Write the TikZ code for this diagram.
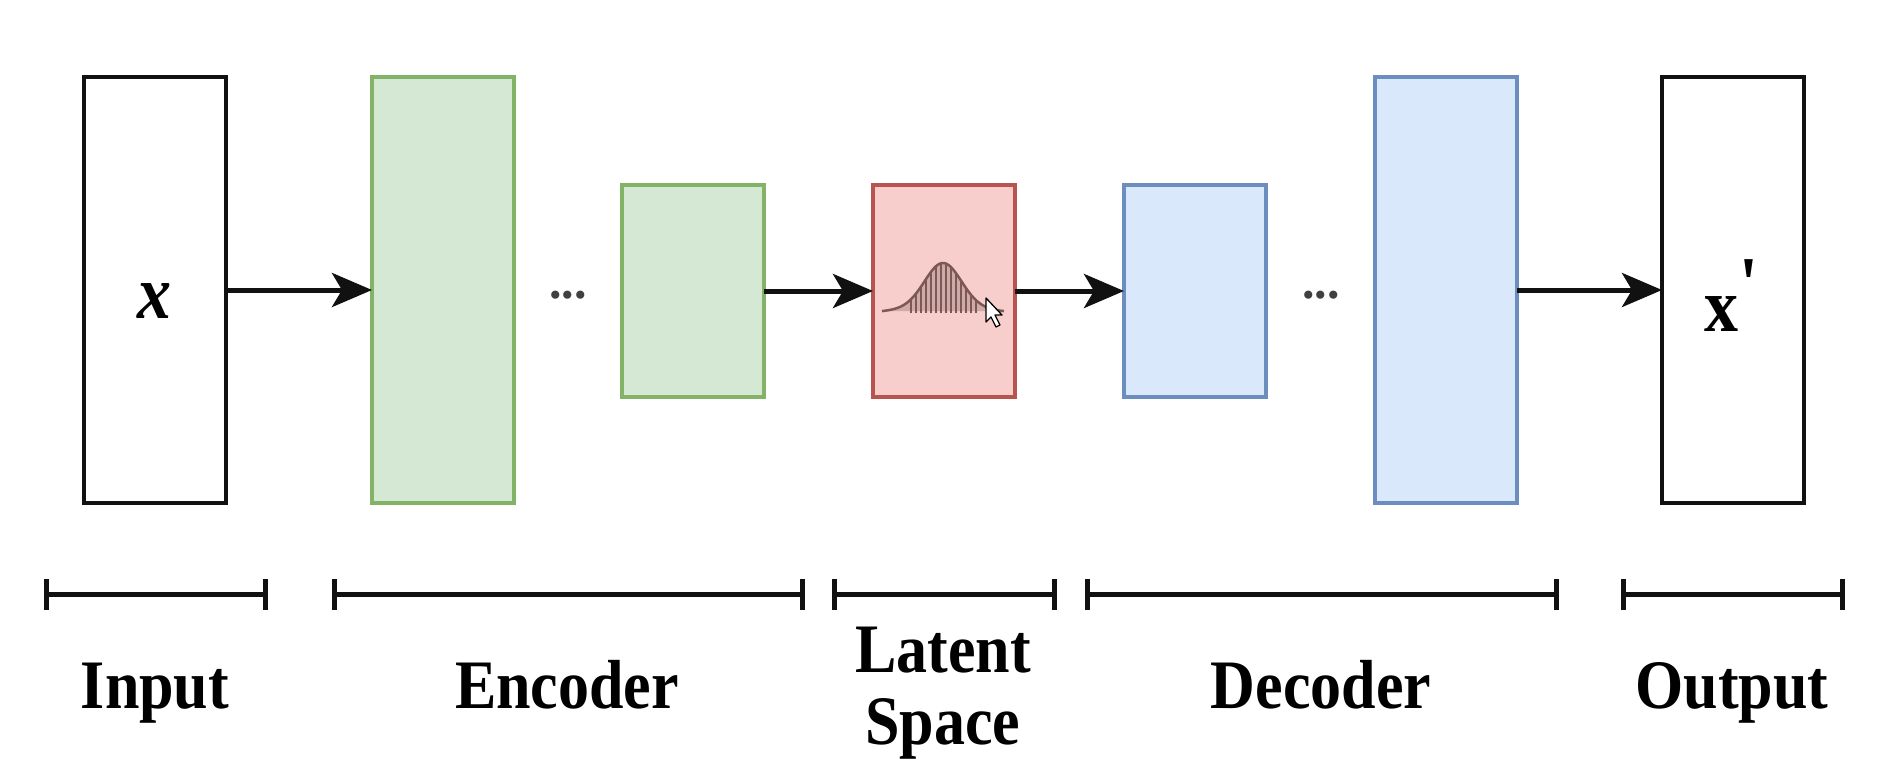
\documentclass[tikz,border=0pt]{standalone}
\usepackage{fontspec}
\setmainfont{Liberation Serif}
\usetikzlibrary{arrows.meta}
\definecolor{encfill}{HTML}{D5E8D4}
\definecolor{encline}{HTML}{82B366}
\definecolor{decfill}{HTML}{DAE8FC}
\definecolor{decline}{HTML}{6C8EBF}
\definecolor{latfill}{HTML}{F8CECC}
\definecolor{latline}{HTML}{B85450}
\definecolor{bellfill}{HTML}{C4A3A0}
\definecolor{bellline}{HTML}{7E5854}
\definecolor{ink}{HTML}{111111}
\newcommand{\tall}[1]{\scalebox{1}[1.12]{#1}}
% bell curve height above the base line, for a position along the axis
\tikzset{declare function={bell(\t)=50*(0.85*exp(-((\t-943)/18)*((\t-943)/18)/2)+0.15*exp(-((\t-943)/36)*((\t-943)/36)/2));}}
\begin{document}
\begin{tikzpicture}[x=1pt,y=-1pt,
  layer/.style={draw, line width=4pt, inner sep=0pt, outer sep=0pt, minimum width=142pt},
  tallbox/.style={layer, minimum height=426pt},
  shortbox/.style={layer, minimum height=212pt},
  iobox/.style={tallbox, draw=ink, fill=white, line width=4.5pt},
  encbox/.style={fill=encfill, draw=encline},
  decbox/.style={fill=decfill, draw=decline},
  latbox/.style={shortbox, fill=latfill, draw=latline},
  flow/.style={draw=ink, line width=5pt, -{Stealth[length=40pt, width=34pt, inset=10pt]}},
  span/.style={draw=ink, line width=5pt},
  lab/.style={font=\bfseries\fontsize{62}{62}\selectfont, inner sep=0pt, anchor=base},
  sym/.style={lab, font=\bfseries\fontsize{68}{68}\selectfont},
  dots/.style={font=\bfseries\fontsize{50}{50}\selectfont, text=black!75, inner sep=0pt, anchor=base}
]
\useasboundingbox[fill=white] (0,0) rectangle (1888,772);

% layers
\node[iobox] (in) at (155,290) {};
\node[tallbox, encbox] (e1) at (443,290) {};
\node[shortbox, encbox] (e2) at (693,291) {};
\node[latbox] (z) at (944,291) {};
\node[shortbox, decbox] (d1) at (1195,291) {};
\node[tallbox, decbox] (d2) at (1446,290) {};
\node[iobox] (out) at (1733,290) {};

% symbols inside the input and output boxes
\node[sym, font=\bfseries\itshape\fontsize{68}{68}\selectfont] (xin) at (154,318) {\tall{x}};
\node[sym] (xout) at (1721,331) {\tall{x\rlap{\kern1pt\raisebox{19pt}{\textquotesingle}}}};

% ellipses between layers
\node[dots] (dotsE) at (568,298) {...};
\node[dots] (dotsD) at (1321,298) {...};

% connectors
\draw[flow] (in.east) -- (e1.west);
\draw[flow] (e2.east) -- (z.west);
\draw[flow] (z.east) -- (d1.west);
\draw[flow] (d2.east) -- (out.west);

% gaussian bell in the latent layer
\fill[bellfill, opacity=0.8] plot[domain=882:1004, samples=80] (\x, {313-bell(\x)}) -- cycle;
\foreach \xx in {911,916,...,976}
  \draw[bellline, line width=1.2pt] (\xx,313) -- (\xx, {313-bell(\xx)});
\draw[bellline, line width=2.5pt] plot[domain=882:1004, samples=80] (\x, {313-bell(\x)});

% pointer
\draw[black, line width=1.3pt, fill=white, line join=round]
  (986,298) -- (986,322) -- (991,317) -- (996,327) -- (1000,325) -- (995,315) -- (1002,315) -- cycle;

% section spans
\draw[span] (46,579) -- (46,610) (46,594) -- (265,594) (265,579) -- (265,610);
\draw[span] (334,579) -- (334,610) (334,594) -- (802,594) (802,579) -- (802,610);
\draw[span] (834,579) -- (834,610) (834,594) -- (1054,594) (1054,579) -- (1054,610);
\draw[span] (1087,579) -- (1087,610) (1087,594) -- (1556,594) (1556,579) -- (1556,610);
\draw[span] (1623,579) -- (1623,610) (1623,594) -- (1842,594) (1842,579) -- (1842,610);

% section labels
\node[lab] (lin) at (155,708) {\tall{Input}};
\node[lab] (lenc) at (567,708) {\tall{Encoder}};
\node[lab] (llat1) at (943,672) {\tall{Latent}};
\node[lab] (llat2) at (943,744) {\tall{Space}};
\node[lab] (ldec) at (1321,708) {\tall{Decoder}};
\node[lab] (lout) at (1732,708) {\tall{Output}};
\end{tikzpicture}
\end{document}
